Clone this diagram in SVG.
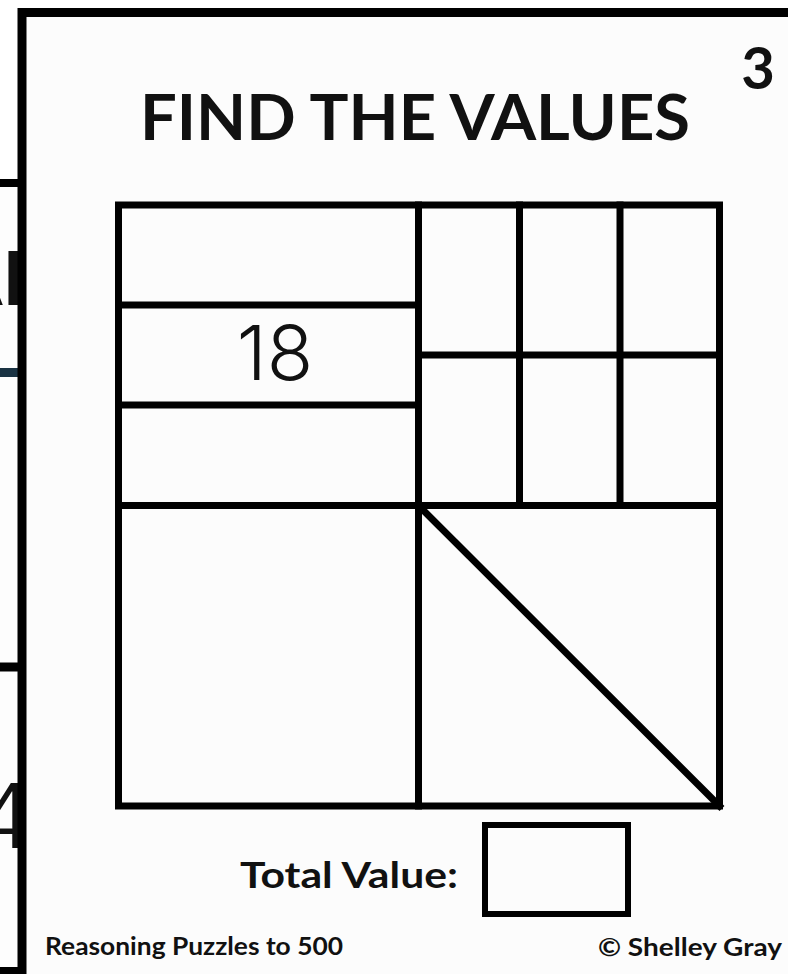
<svg xmlns="http://www.w3.org/2000/svg" width="788" height="974" viewBox="0 0 788 974">
<style>
.ln{stroke:#000;stroke-width:7;fill:none;stroke-linecap:square}
.bold{font-family:Lato,"Open Sans","Liberation Sans",sans-serif;font-weight:bold;fill:#111}
.thin{font-family:Inter,Roboto,"Open Sans",sans-serif;font-weight:300;fill:#111}
</style>
<rect x="0" y="0" width="788" height="974" fill="#ffffff"/>
<g id="back-card">
<rect x="-40" y="183" width="90" height="788" fill="#fdfdfd" stroke="#000" stroke-width="8"/>
<text class="bold" x="-49" y="305" font-size="74">AL</text>
<line x1="0" y1="372.5" x2="30" y2="372.5" stroke="#1a3343" stroke-width="9"/>
<line x1="0" y1="667" x2="30" y2="667" stroke="#000" stroke-width="9"/>
<text class="thin" x="-24" y="848" font-size="90">4</text>
</g>
<g id="card">
<rect x="22" y="12.5" width="820" height="1000" fill="#fcfcfc" stroke="#000" stroke-width="9"/>
<text class="bold" x="140" y="140" font-size="64" textLength="550" lengthAdjust="spacingAndGlyphs">FIND THE VALUES</text>
<text class="bold" x="758" y="89" font-size="58" text-anchor="middle">3</text>
</g>
<g id="grid">
<rect class="ln" x="118.5" y="205" width="601" height="601"/>
<line class="ln" x1="418.5" y1="205" x2="418.5" y2="806"/>
<line class="ln" x1="118.5" y1="305" x2="418.5" y2="305"/>
<line class="ln" x1="118.5" y1="405" x2="418.5" y2="405"/>
<line class="ln" x1="118.5" y1="505.5" x2="719.5" y2="505.5"/>
<line class="ln" x1="418.5" y1="355" x2="719.5" y2="355"/>
<line class="ln" x1="519.5" y1="205" x2="519.5" y2="505.5"/>
<line class="ln" x1="620" y1="205" x2="620" y2="505.5"/>
<line class="ln" x1="418.5" y1="505.5" x2="719.5" y2="806"/>
</g>
<g id="value-18">
<text class="thin" x="275" y="380" font-size="76" text-anchor="middle">18</text>
</g>
<g id="total">
<text class="bold" x="240" y="888" font-size="37" textLength="218" lengthAdjust="spacingAndGlyphs">Total Value:</text>
<rect x="485" y="825" width="143" height="89" fill="none" stroke="#000" stroke-width="6"/>
</g>
<g id="footer">
<text class="bold" x="45" y="955" font-size="24" textLength="298" lengthAdjust="spacingAndGlyphs">Reasoning Puzzles to 500</text>
<text class="bold" x="782" y="956" font-size="25" text-anchor="end" textLength="184" lengthAdjust="spacingAndGlyphs">© Shelley Gray</text>
</g>
</svg>
